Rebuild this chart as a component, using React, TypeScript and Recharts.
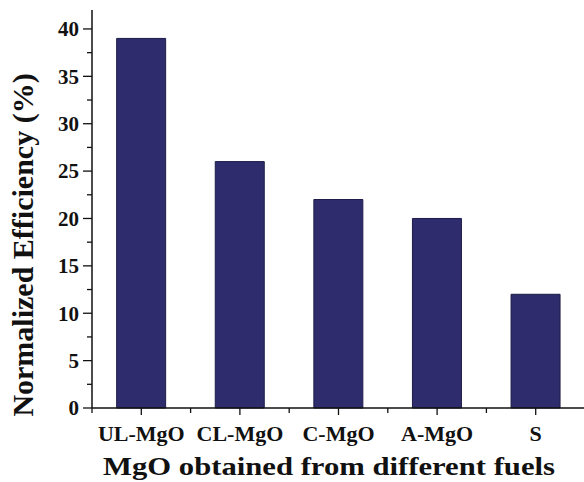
import { BarChart, Bar, XAxis, YAxis } from "recharts";

const fuels = ["UL-MgO", "CL-MgO", "C-MgO", "A-MgO", "S"];
const efficiency = [39, 26, 22, 20, 12];
const yTicks = [0, 2.5, 5, 7.5, 10, 12.5, 15, 17.5, 20, 22.5, 25, 27.5, 30, 32.5, 35, 37.5, 40];
const yMajor = [0, 5, 10, 15, 20, 25, 30, 35, 40];

const data = fuels.map((fuel, i) => ({ fuel, value: efficiency[i] }));

const font = "'Liberation Serif', 'Times New Roman', serif";

function YTick(props: any) {
  const { x, y, payload } = props;
  const major = yMajor.includes(payload.value);
  return (
    <g>
      <line x1={x - (major ? 9 : 5)} x2={x} y1={y} y2={y} stroke="#111" strokeWidth={1.3} />
      {major && (
        <text
          x={x - 13}
          y={y}
          dy="0.35em"
          textAnchor="end"
          fontFamily={font}
          fontWeight="bold"
          fontSize={21}
          fill="#111"
        >
          {payload.value}
        </text>
      )}
    </g>
  );
}

function XTick(props: any) {
  const { x, y, payload, index } = props;
  const half = payload.offset ?? 49;
  return (
    <g>
      <line x1={x} x2={x} y1={y} y2={y + 7} stroke="#111" strokeWidth={1.3} />
      <line x1={x + half} x2={x + half} y1={y} y2={y + 5} stroke="#111" strokeWidth={1.3} />
      {index === 0 && (
        <line x1={x - half} x2={x - half} y1={y} y2={y + 5} stroke="#111" strokeWidth={1.3} />
      )}
      <text
        x={x}
        y={y + 33}
        textAnchor="middle"
        fontFamily={font}
        fontWeight="bold"
        fontSize={22}
        fill="#111"
      >
        {payload.value}
      </text>
    </g>
  );
}

function YTitle(props: any) {
  const cx = 33;
  const cy = 245;
  return (
    <text
      x={cx}
      y={cy}
      transform={`rotate(-90, ${cx}, ${cy})`}
      textAnchor="middle"
      fontFamily={font}
      fontWeight="bold"
      fontSize={30}
      fill="#111"
    >
      Normalized Efficiency (%)
    </text>
  );
}

function XTitle(props: any) {
  return (
    <text
      transform="translate(329, 475) scale(1.18, 1)"
      x={0}
      y={0}
      textAnchor="middle"
      fontFamily={font}
      fontWeight="bold"
      fontSize={26}
      fill="#111"
    >
      MgO obtained from different fuels
    </text>
  );
}

export default function App() {
  return (
    <div
      style={{
        position: "absolute",
        left: 0,
        top: 0,
        width: 584,
        height: 482,
        overflow: "hidden",
        background: "#fff",
      }}
    >
      <BarChart
        width={590}
        height={482}
        data={data}
        margin={{ top: 10, right: 5, bottom: 0, left: 0 }}
        barCategoryGap="25%"
      >
        <XAxis
          dataKey="fuel"
          height={74}
          tickSize={0}
          tickMargin={0}
          tickLine={false}
          interval={0}
          axisLine={{ stroke: "#111", strokeWidth: 1.5 }}
          tick={<XTick />}
          label={<XTitle />}
        />
        <XAxis
          xAxisId="top"
          dataKey="fuel"
          orientation="top"
          height={0}
          tick={false}
          tickLine={false}
          axisLine={{ stroke: "#aaa", strokeWidth: 2 }}
        />
        <YAxis
          width={92}
          domain={[0, 42]}
          ticks={yTicks}
          interval={0}
          tickSize={0}
          tickMargin={0}
          tickLine={false}
          allowDecimals
          axisLine={{ stroke: "#111", strokeWidth: 1.5 }}
          tick={<YTick />}
          label={<YTitle />}
        />
        <Bar
          dataKey="value"
          fill="#2e2c6c"
          stroke="#1d1c48"
          strokeWidth={1}
          isAnimationActive={false}
        />
      </BarChart>
    </div>
  );
}
